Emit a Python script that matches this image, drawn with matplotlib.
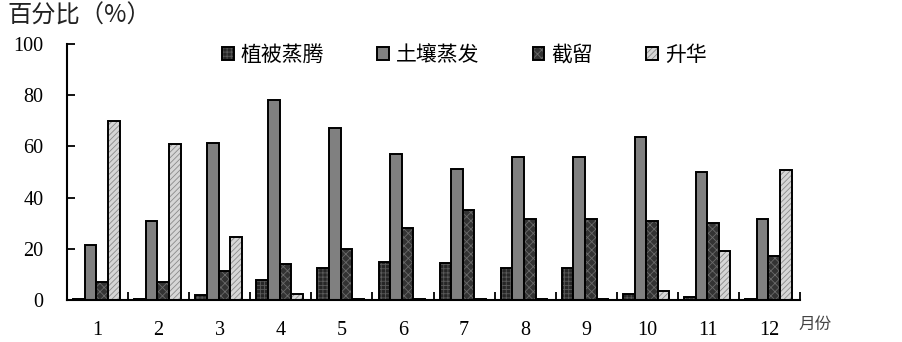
import matplotlib
matplotlib.use("Agg")
import matplotlib.pyplot as plt
import numpy as np

months = ["1", "2", "3", "4", "5", "6", "7", "8", "9", "10", "11", "12"]
series_names = ["植被蒸腾", "土壤蒸发", "截留", "升华"]
veg = [0.3, 0.3, 2.0, 8.0, 12.5, 15.0, 14.5, 12.5, 12.5, 2.3, 1.2, 0.5]
soil = [21.5, 31.0, 61.5, 78.0, 67.0, 57.0, 51.0, 56.0, 56.0, 63.5, 50.0, 31.6]
intercept = [7.0, 7.0, 11.5, 14.0, 20.0, 28.0, 35.0, 31.5, 31.5, 30.8, 30.2, 17.3]
subl = [70.0, 61.0, 24.5, 2.5, 0.3, 0.2, 0.2, 0.2, 0.2, 3.5, 19.3, 50.7]
yticks = [0, 20, 40, 60, 80, 100]

plt.rcParams['hatch.linewidth'] = 0.6
cjk = ['Noto Sans CJK SC', 'DejaVu Sans']
serif = ['Liberation Serif', 'DejaVu Serif']

fig = plt.figure(figsize=(9.03, 3.42), dpi=100)
ax = fig.add_axes([0.0742, 0.1228, 0.8118, 0.7485])

x = np.arange(1, len(months) + 1)
w = 0.19
faces = ['#262626', '#808080', '#333333', '#d6d6d6']
hatches = ['++++', None, 'xxxx', '//////']
hatch_cols = ['#5a5a5a', None, '#6a6a6a', '#8a8a8a']
data = [veg, soil, intercept, subl]
for i, vals in enumerate(data):
    offs = (i - 1.5) * w - 0.02
    bars = ax.bar(x + offs, vals, width=w, facecolor=faces[i],
                  edgecolor='black', linewidth=1.4, hatch=hatches[i],
                  label=series_names[i])
    if hatch_cols[i]:
        for b in bars:
            b._hatch_color = matplotlib.colors.to_rgba(hatch_cols[i])

ax.set_xlim(0.5, 12.5)
ax.set_ylim(0, 100)
ax.set_yticks(yticks)
ax.set_yticklabels([str(t) for t in yticks], fontfamily=serif, fontsize=14.5)
ax.tick_params(axis='y', direction='in', length=6, width=1.3, pad=17)
ax.set_xticks(x)
ax.set_xticklabels(months, fontfamily=serif, fontsize=14.5)
ax.set_xticks(np.arange(0.5, 13.0, 1.0), minor=True)
ax.tick_params(axis='x', which='major', length=0, pad=15)
ax.tick_params(axis='x', which='minor', direction='in', length=6, width=1.3)

for s in ['top', 'right']:
    ax.spines[s].set_visible(False)
for s in ['left', 'bottom']:
    ax.spines[s].set_linewidth(1.5)

leg = ax.legend(ncol=4, loc='center left', bbox_to_anchor=(0.2115, 0.957),
                frameon=False, prop={'family': cjk, 'size': 15},
                handlelength=0.55, handleheight=0.55, handletextpad=0.35,
                columnspacing=2.55, borderpad=0, borderaxespad=0)
for h in leg.legend_handles:
    h.set_linewidth(1.4)

fig.text(0.008, 0.953, "百分比（%）", fontfamily=cjk, fontsize=17.5,
         va='center', ha='left', color='#222222')
fig.text(0.884, 0.05, "月份", fontfamily=cjk, fontsize=12,
         va='center', ha='left', color='#444444')

fig.savefig("out.png", dpi=100)
